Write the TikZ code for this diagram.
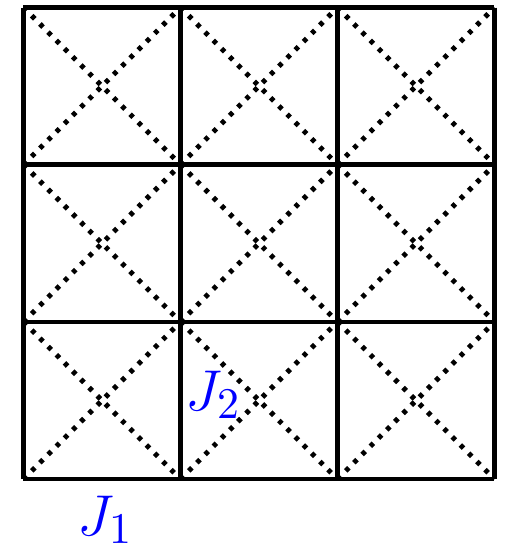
\documentclass[tikz,border=0pt]{standalone}
\begin{document}
\begin{tikzpicture}[x=0.25pt,y=-0.25pt,
  gridline/.style={line width=1.15pt},
  diag/.style={line width=1.25pt, dash pattern=on 1.1pt off 1.8pt},
  lbl/.style={text=blue, font=\fontsize{15.2}{18}\selectfont, inner sep=0pt, anchor=base}]
\useasboundingbox (0,0) rectangle (505,549);
\foreach \i in {0,1,2}{
  \foreach \j in {0,1,2}{
    \pgfmathsetmacro{\xa}{23.5+157*\i}
    \pgfmathsetmacro{\ya}{7.5+157.2*\j}
    \pgfmathsetmacro{\xb}{\xa+157}
    \pgfmathsetmacro{\yb}{\ya+157.2}
    \draw[diag] (\xa,\ya) -- (\xb,\yb);
    \draw[diag] (\xa,\yb) -- (\xb,\ya);
  }
}
\foreach \k in {0,1,2,3}{
  \pgfmathsetmacro{\x}{23.5+157*\k}
  \pgfmathsetmacro{\y}{7.5+157.2*\k}
  \draw[gridline] (\x,7.5) -- (\x,479);
  \draw[gridline] (23.5,\y) -- (494.5,\y);
}
\node[lbl] (j2) at (213.5,410) {$J_2$};
\node[lbl] (j1) at (105.5,535) {$J_1$};
\end{tikzpicture}
\end{document}
